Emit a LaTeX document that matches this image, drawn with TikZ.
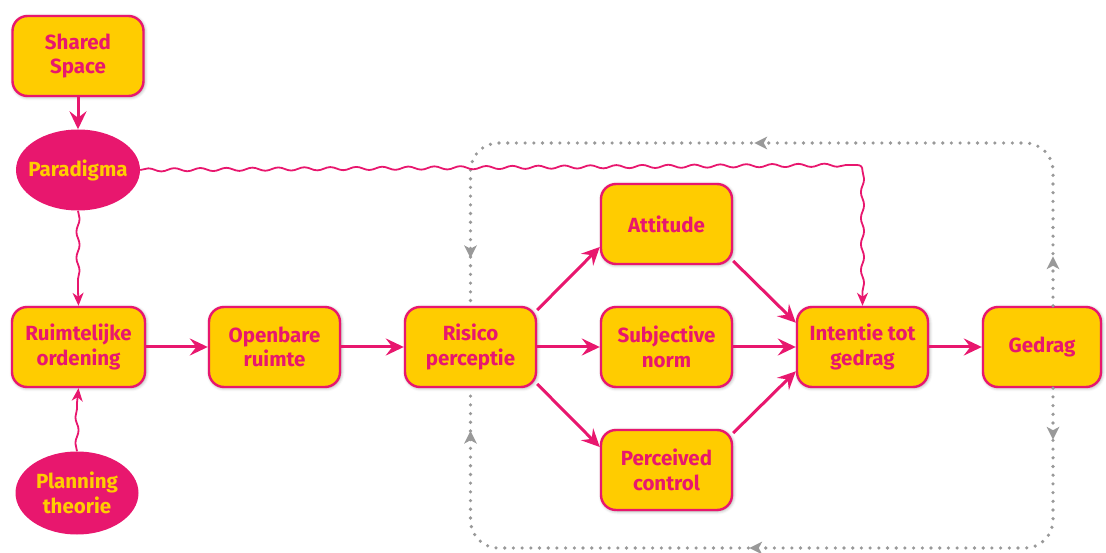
\documentclass[tikz,border=0pt]{standalone}
\usepackage{fontspec}
\setmainfont{Fira Sans}
\usetikzlibrary{arrows.meta,shapes.geometric,shadows.blur,decorations.pathmorphing,decorations.markings}
\definecolor{gold}{HTML}{FFCC00}
\definecolor{rose}{HTML}{E8176E}
\definecolor{loopgray}{HTML}{999999}
% small grey arrowhead used on the dotted feedback loop
\newcommand{\looptip}{\fill[loopgray, sharp corners] (6.5pt,0) -- (-6.5pt,6.5pt) -- (-3pt,0) -- (-6.5pt,-6.5pt) -- cycle;}

\begin{document}
\begin{tikzpicture}[x=1pt,y=1pt,
  box/.style={draw=rose, line width=2.4pt, fill=gold, rounded corners=15pt,
    minimum width=131pt, minimum height=80pt, align=center, text=rose,
    font=\bfseries\fontsize{20.5}{24.5}\selectfont, inner sep=2pt,
    blur shadow={shadow xshift=1pt, shadow yshift=-1pt, shadow blur radius=3.5pt, shadow opacity=40}},
  blob/.style={ellipse, fill=rose, draw=none, minimum width=124pt, minimum height=81pt,
    inner sep=-20pt, align=center, text=gold, font=\bfseries\fontsize{20.5}{24.5}\selectfont},
  flow/.style={draw=rose, line width=3pt, -{Stealth[length=18pt,width=17pt,inset=6.5pt]}},
  snakeon/.style={decoration={snake, amplitude=1.6pt, segment length=26pt}},
  wavy/.style={draw=rose, line width=1.8pt, line join=round, -{Stealth[length=13pt,width=11pt,inset=4pt]}},
  loopline/.style={loopgray, line width=3.6pt, dash pattern=on 0pt off 8.7pt, line cap=round, rounded corners=28pt},
]
\useasboundingbox (0,0) rectangle (1106,552);

% guide coordinates for the dotted feedback loop
\coordinate (loopR) at (1053,0);
\coordinate (loopT) at (0,409);
\coordinate (loopB) at (0,4);

% nodes
\node[box] (shared) at (78,496) {Shared\\Space};
\node[blob] (paradigma) at (78,382) {Paradigma};
\node[box, minimum width=133pt] (ruimt) at (78.5,205) {Ruimtelijke\\ordening};
\node[blob, minimum width=123pt, minimum height=83pt] (planning) at (77,59) {Planning\\theorie};
\node[box] (openbare) at (274.5,205) {Openbare\\ruimte};
\node[box] (risico) at (470.5,205) {Risico\\perceptie};
\node[box] (attitude) at (666.5,328) {Attitude};
\node[box] (subj) at (666.5,205) {Subjective\\norm};
\node[box] (perceived) at (666.5,82) {Perceived\\control};
\node[box] (intentie) at (862.5,205) {Intentie tot\\gedrag};
\node[box, minimum width=118pt] (gedrag) at (1042,205) {Gedrag};

% dotted feedback loop from Gedrag back to Risico perceptie
\draw[loopline, postaction={decorate, decoration={markings,
    mark=at position 43pt with {\looptip},
    mark=at position 443pt with {\looptip},
    mark=at position 830pt with {\looptip}}}]
  (gedrag.north -| loopR) -- (loopR |- loopT) -- (risico.north |- loopT) -- (risico.north);
\draw[loopline, postaction={decorate, decoration={markings,
    mark=at position 45pt with {\looptip},
    mark=at position 445pt with {\looptip},
    mark=at position 829pt with {\looptip}}}]
  (gedrag.south -| loopR) -- (loopR |- loopB) -- (risico.south |- loopB) -- (risico.south);

% wavy influences
\coordinate (bendIn) at (857,387);
\coordinate (bendOut) at (862.5,381);
\coordinate (bendEnd) at (862.5,259);
\coordinate (parEnd) at (78,262);
\coordinate (planEnd) at (77,149);
\draw[wavy] decorate[snakeon] {(paradigma.east) -- (bendIn)}
  .. controls (861,387) and (862.5,385) .. (bendOut)
  decorate[snakeon] {-- (bendEnd)} -- (intentie.north);
\draw[wavy] decorate[snakeon] {(paradigma.south) -- (parEnd)} -- (ruimt.north);
\draw[wavy] decorate[snakeon] {(planning.north) -- (planEnd)} -- (ruimt.south);

% main flow
\draw[flow] (shared.south) -- (paradigma.north);
\draw[flow] (ruimt.east) -- (openbare.west);
\draw[flow] (openbare.east) -- (risico.west);
\draw[flow] (risico.east) -- (subj.west);
\draw[flow] (risico.29) -- (attitude.199);
\draw[flow] (risico.-29) -- (perceived.161);
\draw[flow] (attitude.-29) -- (intentie.160);
\draw[flow] (subj.east) -- (intentie.west);
\draw[flow] (perceived.29) -- (intentie.-160);
\draw[flow] (intentie.east) -- (gedrag.west);
\end{tikzpicture}
\end{document}
